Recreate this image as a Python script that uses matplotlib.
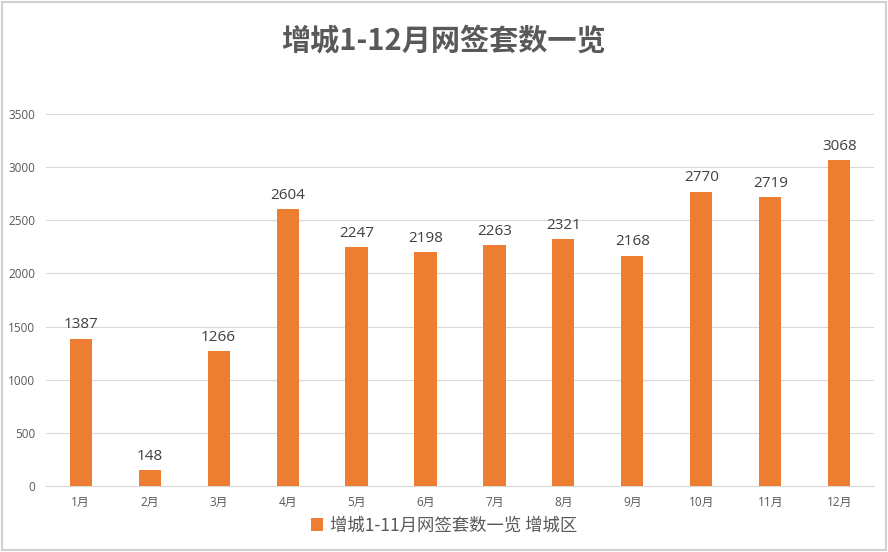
import matplotlib.pyplot as plt
from matplotlib.patches import Rectangle

plt.rcParams['font.family'] = ['Open Sans', 'Noto Sans CJK SC', 'DejaVu Sans']
cjk = ['Noto Sans CJK SC', 'DejaVu Sans']

months = ['1月', '2月', '3月', '4月', '5月', '6月', '7月', '8月', '9月', '10月', '11月', '12月']
counts = [1387, 148, 1266, 2604, 2247, 2198, 2263, 2321, 2168, 2770, 2719, 3068]
yticks = [0, 500, 1000, 1500, 2000, 2500, 3000, 3500]

bar_color = '#ED7D31'
text_gray = '#595959'

fig = plt.figure(figsize=(8.88, 5.52), dpi=100)
ax = fig.add_axes([0.052, 0.1196, 0.932, 0.6739])

x = range(len(months))
bars = ax.bar(x, counts, width=0.32, color=bar_color, zorder=3,
              label='增城1-11月网签套数一览 增城区')

for xi, v in zip(x, counts):
    ax.text(xi, v + 60, str(v), ha='center', va='bottom', fontsize=11, color='#404040')

ax.set_xlim(-0.5, len(months) - 0.5)
ax.set_ylim(0, 3500)
ax.set_yticks(yticks)
ax.set_xticks(list(x))
ax.set_xticklabels(months)
ax.tick_params(axis='both', length=0, labelsize=8.5, colors=text_gray)
ax.tick_params(axis='y', pad=8)
ax.tick_params(axis='x', pad=7)
ax.grid(axis='y', color='#D9D9D9', linewidth=0.8, zorder=0)
for s in ['top', 'right', 'left']:
    ax.spines[s].set_visible(False)
ax.spines['bottom'].set_color('#D9D9D9')

fig.text(0.5, 0.926, '增城1-12月网签套数一览', ha='center', va='center',
         fontsize=21, fontweight='bold', color=text_gray, family=cjk)

leg = fig.legend(handles=[bars], loc='center', bbox_to_anchor=(0.5, 0.048),
                 frameon=False, handlelength=0.7, handleheight=0.7,
                 handletextpad=0.4, prop={'family': cjk, 'size': 12.5})
for t in leg.get_texts():
    t.set_color(text_gray)

fig.patches.append(Rectangle((0.002, 0.003), 0.996, 0.994, transform=fig.transFigure,
                             fill=False, edgecolor='#D0D0D0', linewidth=1.5))

fig.savefig('out.png', dpi=100)
